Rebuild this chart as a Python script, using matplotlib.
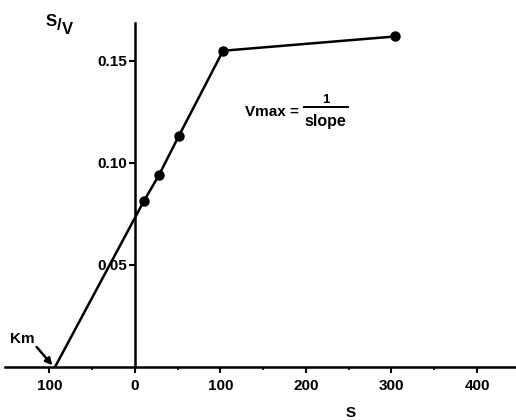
import matplotlib.pyplot as plt
from matplotlib.lines import Line2D

plt.rcParams['font.family'] = ['Liberation Sans', 'DejaVu Sans']
plt.rcParams['font.weight'] = 'bold'

# substrate concentration S and S/V values
s_vals = [10.5, 28, 51, 103, 304]
sv_vals = [0.0814, 0.094, 0.113, 0.155, 0.162]
km = -93.5

x_ticks = [-100, 0, 100, 200, 300, 400]
x_tick_labels = ['100', '0', '100', '200', '300', '400']
x_minor = [-50, 50, 150, 250, 350]
y_ticks = [0.05, 0.10, 0.15]
y_tick_labels = ['0.05', '0.10', '0.15']


def main():
    fig = plt.figure(figsize=(5.16, 4.2), dpi=100)
    ax = fig.add_axes([5 / 516, 53 / 420, 511 / 516, 344 / 420])
    ax.set_xlim(-152, 445.6)
    ax.set_ylim(0, 0.1686)

    for side in ['top', 'right']:
        ax.spines[side].set_visible(False)
    ax.spines['left'].set_position(('data', 0))
    ax.spines['bottom'].set_position(('data', 0))
    ax.spines['left'].set_linewidth(1.8)
    ax.spines['bottom'].set_linewidth(1.8)

    # line extrapolated back to the x axis at -Km
    ax.plot([km] + s_vals, [0] + sv_vals, color='black', lw=1.8, zorder=3)
    ax.plot(s_vals, sv_vals, 'o', color='black', ms=6.5, zorder=4)

    ax.set_xticks(x_ticks)
    ax.set_xticklabels(x_tick_labels, fontsize=11, fontweight='bold')
    ax.set_xticks(x_minor, minor=True)
    ax.set_yticks(y_ticks)
    ax.set_yticklabels(y_tick_labels, fontsize=11, fontweight='bold')
    for lab in ax.get_yticklabels():
        lab.set_bbox(dict(facecolor='white', edgecolor='none', pad=0.5))
    ax.tick_params(axis='both', which='major', direction='out', length=4, width=1.5, pad=5)
    ax.tick_params(axis='x', which='minor', direction='out', length=2.5, width=1.2)
    ax.tick_params(axis='y', pad=2)

    ax.set_xlabel('S', fontsize=11, fontweight='bold')
    ax.xaxis.set_label_coords(0.677, -0.112)

    fig.text(51 / 516, 1 - 21 / 420, 'S', fontsize=12, fontweight='bold', ha='center', va='center')
    fig.text(59 / 516, 1 - 26 / 420, '/', fontsize=12, fontweight='bold', ha='center', va='center')
    fig.text(67 / 516, 1 - 30 / 420, 'V', fontsize=12, fontweight='bold', ha='center', va='center')

    ax.text(-132, 0.0135, 'Km', fontsize=11, fontweight='bold', ha='center', va='center')
    ax.annotate('', xy=(km - 3, 0.0008), xytext=(-115, 0.0098),
                arrowprops=dict(arrowstyle='-|>', color='black', lw=1.8,
                                mutation_scale=10, shrinkA=0, shrinkB=0),
                annotation_clip=False)

    ax.text(128.7, 0.125, 'Vmax =', fontsize=11, fontweight='bold', ha='left', va='center')
    ax.text(223, 0.1309, '1', fontsize=9.5, fontweight='bold', ha='center', va='center')
    ax.text(223, 0.1205, 'slope', fontsize=11.5, fontweight='bold', ha='center', va='center')
    ax.add_line(Line2D([197.7, 249], [0.1275, 0.1275], color='black', lw=1.4))

    fig.savefig('out.png', dpi=100)


if __name__ == '__main__':
    main()
